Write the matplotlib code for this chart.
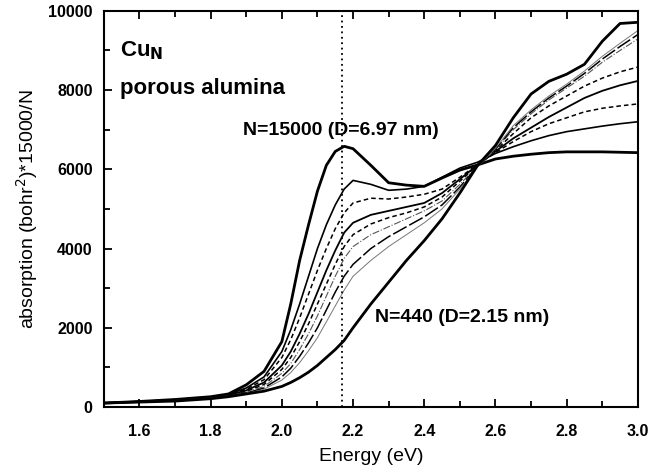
import matplotlib
matplotlib.use('Agg')
import matplotlib.pyplot as plt
from matplotlib.ticker import MultipleLocator

plt.rcParams['font.family'] = ['Liberation Sans', 'DejaVu Sans']

# energy grid (eV)
energy = [1.5, 1.6, 1.7, 1.8, 1.85, 1.9, 1.95, 2.0, 2.025, 2.05, 2.075, 2.1, 2.125, 2.15,
          2.175, 2.2, 2.25, 2.3, 2.35, 2.4, 2.45, 2.5, 2.55, 2.6, 2.65, 2.7, 2.75, 2.8,
          2.85, 2.9, 2.95, 3.0]

# N=15000 (D=6.97 nm)
n15000 = [100, 140, 190, 260, 330, 560, 900, 1650, 2600, 3700, 4600, 5450, 6100, 6450,
          6580, 6520, 6100, 5660, 5600, 5570, 5780, 5980, 6110, 6260, 6330, 6380, 6420, 6440,
          6440, 6440, 6430, 6420]
c2 = [100, 140, 185, 250, 320, 480, 760, 1400, 1950, 2600, 3300, 4000, 4600, 5100,
      5500, 5720, 5620, 5470, 5500, 5570, 5800, 6030, 6180, 6400, 6570, 6720, 6850, 6950,
      7020, 7090, 7150, 7200]
c3 = [100, 135, 180, 245, 310, 450, 690, 1250, 1700, 2250, 2850, 3450, 4000, 4500,
      4900, 5150, 5270, 5250, 5300, 5370, 5500, 5800, 6120, 6420, 6700, 6950, 7150, 7300,
      7450, 7540, 7600, 7650]
c4 = [100, 135, 175, 240, 300, 420, 620, 1050, 1400, 1850, 2350, 2900, 3450, 3950,
      4400, 4650, 4850, 4950, 5050, 5150, 5400, 5750, 6110, 6450, 6780, 7050, 7320, 7560,
      7800, 7980, 8120, 8230]
c5 = [100, 130, 170, 235, 290, 390, 570, 950, 1250, 1650, 2100, 2600, 3100, 3600,
      4050, 4350, 4620, 4780, 4900, 5050, 5300, 5700, 6100, 6470, 6900, 7300, 7600, 7850,
      8100, 8300, 8460, 8580]
c6 = [100, 130, 165, 230, 280, 370, 520, 850, 1100, 1450, 1850, 2300, 2800, 3300,
      3750, 4050, 4350, 4550, 4750, 4950, 5200, 5620, 6090, 6490, 7000, 7400, 7750, 8050,
      8350, 8700, 9000, 9290]
c7 = [100, 128, 160, 225, 275, 350, 480, 760, 980, 1280, 1620, 2000, 2450, 2900,
      3300, 3600, 4000, 4300, 4550, 4800, 5100, 5550, 6080, 6510, 7050, 7450, 7800, 8100,
      8420, 8780, 9100, 9400]
c8 = [100, 125, 155, 220, 270, 335, 450, 680, 870, 1120, 1420, 1750, 2150, 2550,
      2950, 3300, 3700, 4050, 4350, 4650, 5000, 5500, 6070, 6530, 7100, 7500, 7850, 8150,
      8480, 8850, 9180, 9500]
# N=440 (D=2.15 nm)
n440 = [100, 125, 150, 210, 260, 330, 400, 520, 620, 740, 880, 1050, 1250, 1450,
        1680, 2000, 2600, 3150, 3700, 4200, 4750, 5400, 6100, 6600, 7300, 7900, 8220, 8400,
        8650, 9230, 9680, 9710]

peak_energy = 2.168

fig = plt.figure(figsize=(6.7, 4.7), dpi=100)
ax = fig.add_axes([0.155, 0.134, 0.797, 0.843])

ax.plot(energy, n15000, color='black', lw=2.0)
ax.plot(energy, c2, color='black', lw=1.2)
ax.plot(energy, c3, color='black', lw=1.1, ls=(0, (3, 2)))
ax.plot(energy, c4, color='black', lw=1.3)
ax.plot(energy, c5, color='black', lw=1.1, ls=(0, (3, 2)))
ax.plot(energy, c6, color='#555555', lw=0.8, ls='-.')
ax.plot(energy, c7, color='black', lw=1.1, ls=(0, (10, 2)))
ax.plot(energy, c8, color='#777777', lw=0.7)
ax.plot(energy, n440, color='black', lw=2.0)

ax.axvline(peak_energy, color='black', lw=1.3, ls=(0, (1, 2)))

ax.set_xlim(1.5, 3.0)
ax.set_ylim(0, 10000)
ax.xaxis.set_major_locator(MultipleLocator(0.2))
ax.xaxis.set_minor_locator(MultipleLocator(0.1))
ax.yaxis.set_major_locator(MultipleLocator(2000))
ax.yaxis.set_minor_locator(MultipleLocator(1000))
ax.tick_params(which='both', direction='in', top=True, right=False, width=1.3)
ax.tick_params(which='major', length=6, labelsize=11.5)
ax.tick_params(which='minor', length=4)
ax.tick_params(axis='x', which='major', pad=12)
ax.tick_params(axis='y', which='major', pad=8)
for lab in ax.get_xticklabels() + ax.get_yticklabels():
    lab.set_fontweight('bold')
for s in ax.spines.values():
    s.set_linewidth(1.5)

ax.set_xlabel('Energy (eV)', fontsize=14, labelpad=7)
ax.set_ylabel('absorption (bohr$^2$)*15000/N', fontsize=14, labelpad=6)

ax.text(1.545, 9000, 'Cu$_\\mathbf{N}$', fontsize=16, fontweight='bold', va='center')
ax.text(1.545, 8050, 'porous alumina', fontsize=16, fontweight='bold', va='center')
ax.text(1.89, 6970, 'N=15000 (D=6.97 nm)', fontsize=14, fontweight='bold', va='center')
ax.text(2.262, 2250, 'N=440 (D=2.15 nm)', fontsize=14, fontweight='bold', va='center')

fig.savefig('out.png', dpi=100)
